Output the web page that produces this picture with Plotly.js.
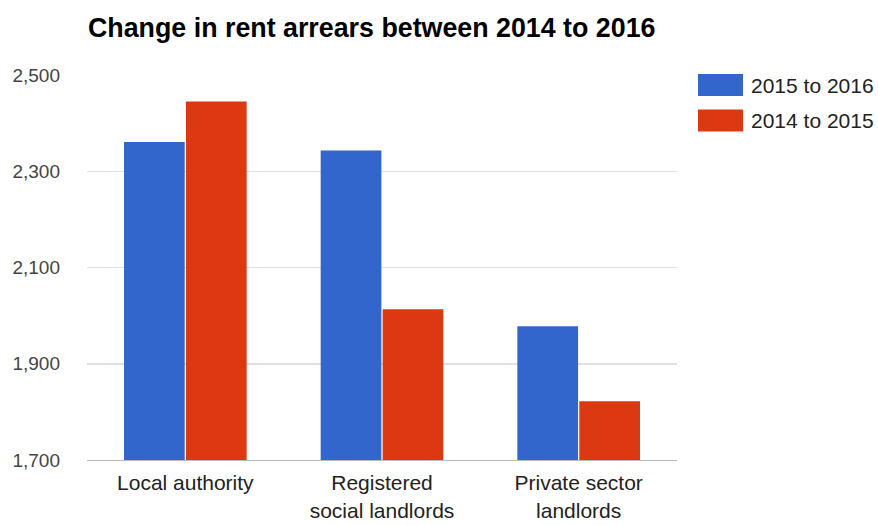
<!DOCTYPE html>
<html>
<head>
<meta charset="utf-8">
<script src="https://cdn.plot.ly/plotly-3.0.1.min.js"></script>
<style>html,body{margin:0;padding:0;background:#fff;}#chart{width:878px;height:525px;}</style>
</head>
<body>
<div id="chart"></div>
<script>
const categories = ["Local authority", "Registered<br>social landlords", "Private sector<br>landlords"];
const series2015to2016 = [2361, 2343, 1978];
const series2014to2015 = [2445, 2013, 1822];
const seriesNames = ["2015 to 2016", "2014 to 2015"];
const seriesColors = ["#3366cc", "#dc3912"];
const yTicks = [1700, 1900, 2100, 2300, 2500];
const yTickLabels = ["1,700", "1,900", "2,100", "2,300", "2,500"];

const FONT = "Liberation Sans, Arial, sans-serif";
const L = 87, R = 677, T = 75, B = 460;
const PW = R - L, PH = B - T;

const traces = [series2015to2016, series2014to2015].map((vals, i) => ({
  type: "bar",
  x: categories,
  y: vals,
  base: 0,
  name: seriesNames[i],
  marker: {color: seriesColors[i], line: {width: 0}},
  showlegend: false
}));

const legendShapes = [];
const legendAnn = [];
seriesNames.forEach((n, i) => {
  const yc = 85 + i * 35.5;
  legendShapes.push({type: "rect", xref: "paper", yref: "paper",
    x0: (698 - L) / PW, x1: (743 - L) / PW,
    y0: (B - (yc + 11)) / PH, y1: (B - (yc - 11)) / PH,
    fillcolor: seriesColors[i], line: {width: 0}});
  legendAnn.push({xref: "paper", yref: "paper", x: (749 - L) / PW, y: (B - yc) / PH,
    xanchor: "left", yanchor: "middle", showarrow: false, text: n,
    font: {family: FONT, size: 21, color: "#222"}});
});

const layout = {
  width: 878, height: 525,
  margin: {l: L, r: 878 - R, t: T, b: 525 - B},
  paper_bgcolor: "#fff", plot_bgcolor: "#fff",
  title: {text: "<b>Change in rent arrears between 2014 to 2016</b>",
    x: 88 / 878, xanchor: "left", y: 1 - 28 / 525, yanchor: "middle",
    font: {family: FONT, size: 26.8, color: "#000"}},
  barmode: "group", bargap: 0.37, bargroupgap: 0.02,
  xaxis: {showgrid: false, showline: true, linecolor: "#bbb", linewidth: 1,
    ticks: "", ticklabelstandoff: 4, tickfont: {family: FONT, size: 21, color: "#222"}},
  yaxis: {range: [1700, 2500], tickvals: yTicks, ticktext: yTickLabels,
    showgrid: true, gridcolor: "#e0e0e0", gridwidth: 1.5, zeroline: false, showline: false,
    ticks: "", ticklabelstandoff: 26,
    tickfont: {family: FONT, size: 19, color: "#444"}},
  shapes: legendShapes,
  annotations: legendAnn,
  showlegend: false
};

Plotly.newPlot("chart", traces, layout, {displayModeBar: false, staticPlot: true});
</script>
</body>
</html>
